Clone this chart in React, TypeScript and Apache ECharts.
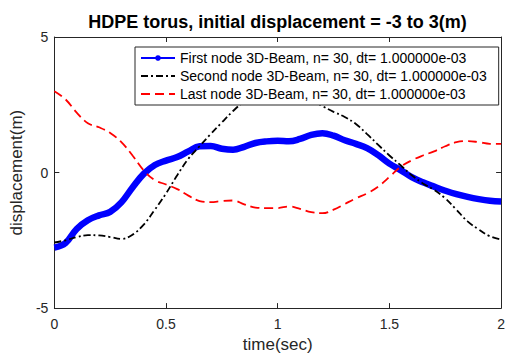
import React, { useEffect, useRef } from "react";
import * as echarts from "echarts";

const timeSec: number[] = [
  0, 0.05, 0.1, 0.15, 0.2, 0.25, 0.3, 0.35, 0.4, 0.45, 0.5, 0.55, 0.6, 0.65, 0.7, 0.75, 0.8, 0.85, 0.9, 0.95,
  1.0, 1.05, 1.1, 1.15, 1.2, 1.25, 1.3, 1.35, 1.4, 1.45, 1.5, 1.55, 1.6, 1.65, 1.7, 1.75, 1.8, 1.85, 1.9, 1.95, 2.0,
];

const firstNode: number[] = [
  -2.77, -2.6, -2.08, -1.76, -1.58, -1.45, -1.1, -0.55, -0.05, 0.28, 0.44, 0.57, 0.78, 0.97, 0.98, 0.88, 0.84,
  0.95, 1.09, 1.15, 1.17, 1.15, 1.24, 1.39, 1.45, 1.36, 1.19, 1.06, 0.9, 0.64, 0.33, 0.09, -0.17, -0.36, -0.52,
  -0.67, -0.8, -0.9, -0.98, -1.04, -1.07,
];

const secondNode: number[] = [
  -2.58, -2.5, -2.38, -2.31, -2.32, -2.38, -2.45, -2.29, -1.92, -1.37, -0.77, -0.1, 0.51, 0.97, 1.42, 1.85, 2.27,
  2.62, 2.85, 2.98, 3.02, 2.98, 2.86, 2.68, 2.45, 2.24, 2.05, 1.79, 1.42, 1.02, 0.63, 0.27, -0.1, -0.4, -0.64,
  -0.95, -1.37, -1.8, -2.1, -2.35, -2.47,
];

const lastNode: number[] = [
  3.0, 2.7, 2.21, 1.82, 1.67, 1.46, 1.12, 0.63, 0.08, -0.28, -0.44, -0.61, -0.85, -1.05, -1.09, -1.05, -1.03,
  -1.17, -1.29, -1.31, -1.31, -1.25, -1.34, -1.46, -1.5, -1.37, -1.16, -0.95, -0.77, -0.52, -0.16, 0.21, 0.45,
  0.63, 0.78, 0.97, 1.12, 1.16, 1.12, 1.06, 1.06,
];

const seriesNames: string[] = [
  "First node 3D-Beam, n= 30, dt= 1.000000e-03",
  "Second node 3D-Beam, n= 30, dt= 1.000000e-03",
  "Last node 3D-Beam, n= 30, dt= 1.000000e-03",
];

const titleText = "HDPE torus, initial displacement = -3 to 3(m)";
const xName = "time(sec)";
const yName = "displacement(m)";

const FONT = "'Liberation Sans', Arial, Helvetica, sans-serif";
const AXIS_COLOR = "#262626";

const pairs = (ys: number[]) => timeSec.map((t, i) => [t, ys[i]]);

export default function App() {
  const ref = useRef<HTMLDivElement>(null);

  useEffect(() => {
    if (!ref.current) return;
    const chart = echarts.init(ref.current, undefined, { renderer: "svg" });
    const tickAxisCommon = {
      axisLine: { show: true, onZero: false, lineStyle: { color: AXIS_COLOR, width: 1 } },
      axisTick: { show: true, inside: true, length: 5, lineStyle: { color: AXIS_COLOR } },
      splitLine: { show: false },
    };
    chart.setOption({
      animation: false,
      backgroundColor: "#ffffff",
      textStyle: { fontFamily: FONT },
      title: {
        text: titleText,
        left: 277.5,
        textAlign: "center",
        top: 13,
        padding: 0,
        textStyle: { fontFamily: FONT, fontSize: 18, fontWeight: "bold", color: "#000" },
      },
      grid: { left: 51, right: 4, top: 37, bottom: 47, containLabel: false },
      legend: {
        orient: "vertical",
        left: 135,
        top: 47,
        width: 360,
        padding: [4, 12, 4, 5],
        itemWidth: 34,
        itemHeight: 7,
        itemGap: 4,
        backgroundColor: "#ffffff",
        borderColor: AXIS_COLOR,
        borderWidth: 1,
        borderRadius: 0,
        selectedMode: false,
        textStyle: { fontFamily: FONT, fontSize: 14, color: "#000", padding: [0, 0, 0, 0], lineHeight: 14 },
        data: [
          { name: seriesNames[0], lineStyle: { width: 2 } },
          { name: seriesNames[1], itemStyle: { opacity: 0 } },
          { name: seriesNames[2], itemStyle: { opacity: 0 } },
        ],
      },
      xAxis: [
        {
          type: "value",
          min: 0,
          max: 2,
          interval: 0.5,
          name: xName,
          nameLocation: "middle",
          nameGap: 26,
          nameTextStyle: { fontFamily: FONT, fontSize: 17, color: AXIS_COLOR },
          axisLabel: {
            fontFamily: FONT,
            fontSize: 14,
            color: AXIS_COLOR,
            margin: 9,
            formatter: (v: number) => String(v),
          },
          ...tickAxisCommon,
        },
        {
          type: "value",
          position: "top",
          min: 0,
          max: 2,
          interval: 0.5,
          axisLabel: { show: false },
          ...tickAxisCommon,
        },
      ],
      yAxis: [
        {
          type: "value",
          min: -5,
          max: 5,
          interval: 5,
          name: yName,
          nameLocation: "middle",
          nameGap: 27,
          nameTextStyle: { fontFamily: FONT, fontSize: 17, color: AXIS_COLOR },
          axisLabel: { fontFamily: FONT, fontSize: 14, color: AXIS_COLOR, margin: 6 },
          ...tickAxisCommon,
        },
        {
          type: "value",
          position: "right",
          min: -5,
          max: 5,
          interval: 5,
          axisLabel: { show: false },
          ...tickAxisCommon,
        },
      ],
      series: [
        {
          name: seriesNames[0],
          type: "line",
          data: pairs(firstNode),
          smooth: 0.4,
          symbol: "circle",
          symbolSize: 6,
          showSymbol: false,
          color: "#0000ff",
          lineStyle: { color: "#0000ff", width: 6.5 },
          itemStyle: { color: "#0000ff" },
          z: 2,
        },
        {
          name: seriesNames[1],
          type: "line",
          data: pairs(secondNode),
          smooth: 0.4,
          symbol: "none",
          color: "#000000",
          lineStyle: { color: "#000000", width: 1.8, type: [7, 3, 2, 3] },
          z: 3,
        },
        {
          name: seriesNames[2],
          type: "line",
          data: pairs(lastNode),
          smooth: 0.4,
          symbol: "none",
          color: "#ff0000",
          lineStyle: { color: "#ff0000", width: 1.8, type: [9, 5] },
          z: 4,
        },
      ],
    });
    return () => chart.dispose();
  }, []);

  return (
    <div
      ref={ref}
      style={{ position: "fixed", left: 0, top: 0, width: 508, height: 358, background: "#fff" }}
    />
  );
}
